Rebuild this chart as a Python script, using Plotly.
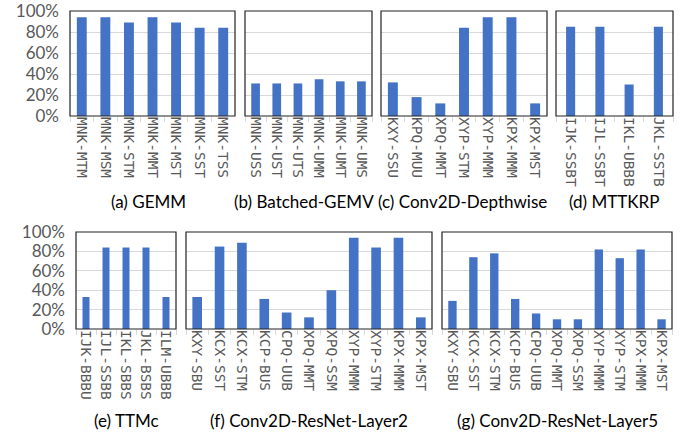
import plotly.graph_objects as go

# ---- data ----
gemm_labels = ["MNK-MTM", "MNK-MSM", "MNK-STM", "MNK-MMT", "MNK-MST", "MNK-SST", "MNK-TSS"]
gemm_vals = [94, 94, 89, 94, 89, 84, 84]

bgemv_labels = ["MNK-USS", "MNK-UST", "MNK-UTS", "MNK-UMM", "MNK-UMT", "MNK-UMS"]
bgemv_vals = [31, 31, 31, 35, 33, 33]

dw_labels = ["KXY-SSU", "KPQ-MUU", "XPQ-MMT", "XYP-STM", "XYP-MMM", "KPX-MMM", "KPX-MST"]
dw_vals = [32, 18, 12, 84, 94, 94, 12]

mttkrp_labels = ["IJK-SSBT", "IJL-SSBT", "IKL-UBBB", "JKL-SSTB"]
mttkrp_vals = [85, 85, 30, 85]

ttmc_labels = ["IJK-BBBU", "IJL-SSBB", "IKL-SBBS", "JKL-BSBS", "ILM-UBBB"]
ttmc_vals = [33, 84, 84, 84, 33]

l2_labels = ["KXY-SBU", "KCX-SST", "KCX-STM", "KCP-BUS", "CPQ-UUB", "XPQ-MMT",
             "XPQ-SSM", "XYP-MMM", "XYP-STM", "KPX-MMM", "KPX-MST"]
l2_vals = [33, 85, 89, 31, 17, 12, 40, 94, 84, 94, 12]

l5_labels = ["KXY-SBU", "KCX-SST", "KCX-STM", "KCP-BUS", "CPQ-UUB", "XPQ-MMT",
             "XPQ-SSM", "XYP-MMM", "XYP-STM", "KPX-MMM", "KPX-MST"]
l5_vals = [29, 74, 78, 31, 16, 10, 10, 82, 73, 82, 10]

titles = ["(a) GEMM", "(b) Batched-GEMV", "(c) Conv2D-Depthwise", "(d) MTTKRP",
          "(e) TTMc", "(f) Conv2D-ResNet-Layer2", "(g) Conv2D-ResNet-Layer5"]

y_ticks = [0, 20, 40, 60, 80, 100]
y_ticktext = ["0%", "20%", "40%", "60%", "80%", "100%"]

# ---- layout geometry (pixels) ----
W, H = 683, 437
panels = [
    (gemm_labels, gemm_vals, 70, 235, 11, 116, True, 0.42),
    (bgemv_labels, bgemv_vals, 245, 372, 11, 116, False, 0.41),
    (dw_labels, dw_vals, 381, 547, 11, 116, False, 0.42),
    (mttkrp_labels, mttkrp_vals, 556, 673, 11, 116, False, 0.31),
    (ttmc_labels, ttmc_vals, 76, 176, 232, 329, True, 0.35),
    (l2_labels, l2_vals, 186, 432, 232, 329, False, 0.43),
    (l5_labels, l5_vals, 442, 672, 232, 329, False, 0.40),
]
title_x = [148, 304, 462, 614, 126, 309, 557]
title_y = [202, 202, 202, 202, 420, 420, 420]

BLUE = "#4472C4"
GRID = "#D9D9D9"
GRAY_TXT = "#595959"

fig = go.Figure()
shapes = []
annotations = []
layout_axes = {}

for i, (labels, vals, x0, x1, ytop, ybot, showy, bw) in enumerate(panels):
    n = i + 1
    xa = "x" if n == 1 else f"x{n}"
    ya = "y" if n == 1 else f"y{n}"
    xkey = "xaxis" if n == 1 else f"xaxis{n}"
    ykey = "yaxis" if n == 1 else f"yaxis{n}"
    fig.add_trace(go.Bar(x=labels, y=vals, xaxis=xa, yaxis=ya,
                         marker=dict(color=BLUE, line=dict(width=0)),
                         width=bw, showlegend=False,
                         hovertemplate="%{x}: %{y}%<extra></extra>"))
    dx0, dx1 = x0 / W, x1 / W
    dy0, dy1 = (H - ybot) / H, (H - ytop) / H
    layout_axes[xkey] = dict(
        domain=[dx0, dx1], anchor=ya, type="category", automargin=False,
        tickangle=90, ticks="outside", tickson="boundaries", ticklen=5,
        tickcolor=GRID, tickwidth=1,
        tickfont=dict(family="DejaVu Sans Mono", size=14.5, color=GRAY_TXT),
        showline=False, showgrid=False, zeroline=False,
        range=[-0.5, len(labels) - 0.5], fixedrange=True,
    )
    layout_axes[ykey] = dict(
        domain=[dy0, dy1], anchor=xa, range=[0, 100], automargin=False,
        tickvals=y_ticks, ticktext=y_ticktext, showticklabels=showy,
        tickfont=dict(family="Lato", size=17, color=GRAY_TXT),
        ticklabelstandoff=10, ticklabeloverflow="allow",
        showgrid=True, gridcolor=GRID, gridwidth=1,
        showline=False, zeroline=False, ticks="", fixedrange=True,
    )
    shapes.append(dict(type="rect", xref="paper", yref="paper",
                       x0=dx0, x1=dx1, y0=dy0, y1=dy1,
                       line=dict(color="#222222", width=1.2), layer="above"))
    annotations.append(dict(text=titles[i], xref="paper", yref="paper",
                            x=title_x[i] / W, y=(H - title_y[i]) / H,
                            xanchor="center", yanchor="middle", showarrow=False,
                            font=dict(family="Lato", size=17, color="#000000")))

fig.update_layout(
    width=W, height=H,
    margin=dict(l=0, r=0, t=0, b=0),
    paper_bgcolor="white", plot_bgcolor="white",
    shapes=shapes, annotations=annotations,
    bargap=0.5,
    **layout_axes,
)

fig.write_html("out.html", config={"displayModeBar": False},
               post_script="document.body.style.margin='0';document.body.style.overflow='hidden';")
